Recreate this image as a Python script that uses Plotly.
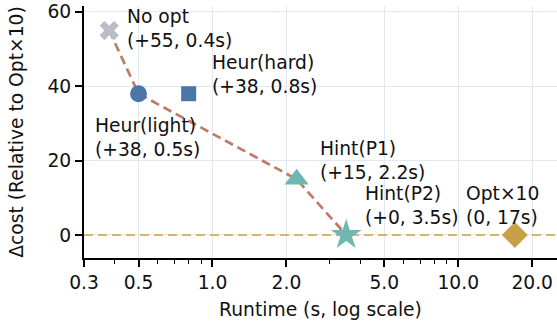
import math
import plotly.graph_objects as go

# ---- data ----
methods = ["No opt", "Heur(light)", "Heur(hard)", "Hint(P1)", "Hint(P2)", "Opt×10"]
runtime = [0.38, 0.5, 0.8, 2.2, 3.5, 17.0]
dcost = [55, 38, 38, 15, 0, 0]
labels = ["No opt<br>(+55, 0.4s)", "Heur(light)<br>(+38, 0.5s)", "Heur(hard)<br>(+38, 0.8s)",
          "Hint(P1)<br>(+15, 2.2s)", "Hint(P2)<br>(+0, 3.5s)", "Opt×10<br>(0, 17s)"]
frontier = ["No opt", "Heur(light)", "Hint(P1)", "Hint(P2)"]
reference_cost = 0
x_tick_vals = [0.3, 0.5, 1.0, 2.0, 5.0, 10.0, 20.0]
x_tick_text = ["0.3", "0.5", "1.0", "2.0", "5.0", "10.0", "20.0"]
x_minor_vals = [0.4, 0.6, 0.7, 0.8, 0.9, 3, 4, 6, 7, 8, 9]
y_tick_vals = [0, 20, 40, 60]

# ---- style ----
symbols = ["x", "circle", "square", "triangle-up", "star", "diamond"]
colors = ["#b9bdc6", "#4a77a8", "#4a77a8", "#6fb8b1", "#6fb8b1", "#c9a04a"]
sizes = [17, 17, 15, 21, 23, 20]
# label offsets (pixels) relative to marker, text anchored left/middle
lbl_dx = [16, -46, 21, 21, 17, -51]
lbl_dy = [2, -44, 19, 19, 29, 29]
FONT = "DejaVu Sans"
FS = 18.7
X_RANGE = [math.log10(0.3), 1.402]
Y_RANGE = [-6.2, 61.6]

fig = go.Figure()

# zero reference line spanning the full x range
fig.add_trace(go.Scatter(x=[10 ** X_RANGE[0], 10 ** X_RANGE[1]],
                         y=[reference_cost, reference_cost], mode="lines",
                         line=dict(color="#d9b470", width=2, dash="9px,5px"),
                         hoverinfo="skip", showlegend=False, cliponaxis=True))

# frontier line
fx = [runtime[methods.index(m)] for m in frontier]
fy = [dcost[methods.index(m)] for m in frontier]
fig.add_trace(go.Scatter(x=fx, y=fy, mode="lines",
                         line=dict(color="#c07b68", width=2.7, dash="9px,5px"),
                         hoverinfo="skip", showlegend=False))

for i, m in enumerate(methods):
    fig.add_trace(go.Scatter(x=[runtime[i]], y=[dcost[i]], mode="markers", name=m,
                             marker=dict(symbol=symbols[i], color=colors[i], size=sizes[i],
                                         line=dict(width=0)),
                             showlegend=False))
    fig.add_annotation(x=math.log10(runtime[i]), y=dcost[i], xref="x", yref="y",
                       text=labels[i], showarrow=False, xanchor="left", yanchor="middle",
                       align="left", xshift=lbl_dx[i], yshift=lbl_dy[i],
                       font=dict(family=FONT, size=FS, color="#111111"))

fig.update_layout(
    width=557, height=324,
    margin=dict(l=84, r=0, t=6, b=66),
    paper_bgcolor="white", plot_bgcolor="white",
    font=dict(family=FONT, size=FS, color="#111111"),
    showlegend=False,
)
fig.update_xaxes(type="log", range=X_RANGE, automargin=False,
                 tickvals=x_tick_vals, ticktext=x_tick_text,
                 ticks="outside", ticklen=7, tickwidth=1.5, tickcolor="black",
                 showline=True, linecolor="black", linewidth=2,
                 showgrid=True, gridcolor="#e2e8f0", gridwidth=1,
                 minor=dict(tickvals=x_minor_vals, ticks="outside", ticklen=4,
                            tickwidth=1, tickcolor="black", showgrid=False),
                 title=dict(text="Runtime (s, log scale)", standoff=10,
                            font=dict(family=FONT, size=FS)),
                 zeroline=False)
fig.update_yaxes(range=Y_RANGE, tickvals=y_tick_vals, automargin=False,
                 ticks="outside", ticklen=7, tickwidth=1.5, tickcolor="black",
                 showline=True, linecolor="black", linewidth=2,
                 showgrid=True, gridcolor="#e2e8f0", gridwidth=1,
                 zeroline=False,
                 title=dict(text="Δcost (Relative to Opt×10)", standoff=19,
                            font=dict(family=FONT, size=FS)))

fig.write_html("out.html", config={"displayModeBar": False},
               post_script="document.body.style.margin='0';document.body.style.padding='0';")
